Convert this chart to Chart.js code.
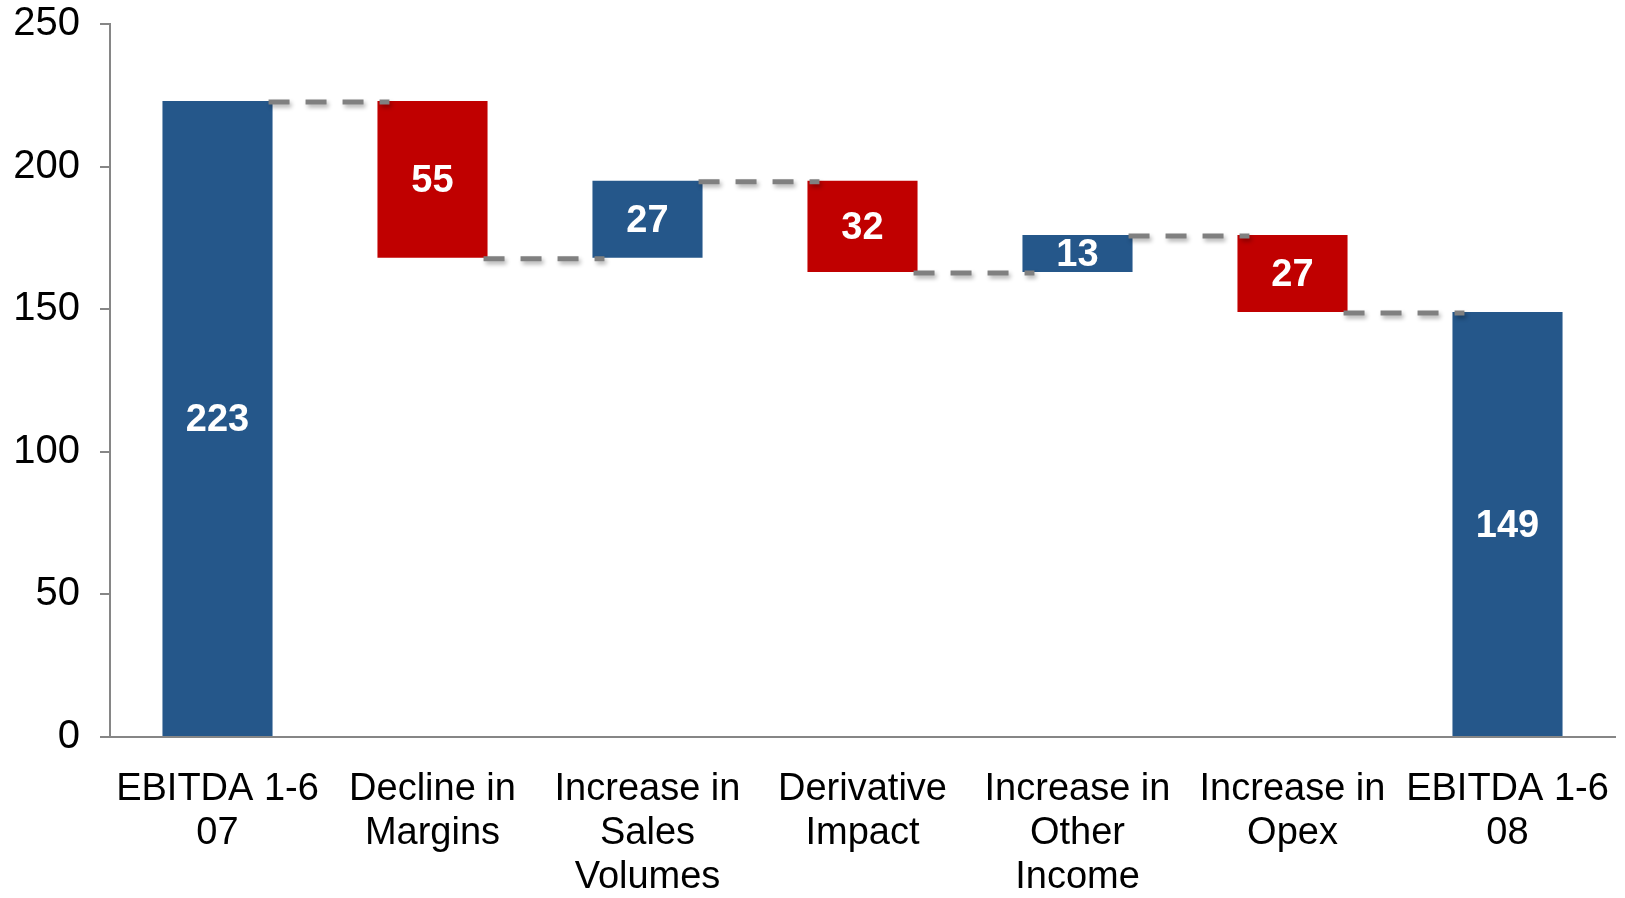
<!DOCTYPE html>
<html>
<head>
<meta charset="utf-8">
<script src="https://cdn.jsdelivr.net/npm/chart.js@4.4.1/dist/chart.umd.min.js"></script>
<style>
    body { margin: 0; background: #fff; overflow: hidden; }
    #wrap { width: 1625px; height: 898px; }
</style>
</head>
<body>
<div id="wrap"><canvas id="waterfall"></canvas></div>
<script>
const categories = [
    ['EBITDA 1-6', '07'],
    ['Decline in', 'Margins'],
    ['Increase in', 'Sales', 'Volumes'],
    ['Derivative', 'Impact'],
    ['Increase in', 'Other', 'Income'],
    ['Increase in', 'Opex'],
    ['EBITDA 1-6', '08']
];
// first and last are totals, the rest are changes
const values = [223, -55, 27, -32, 13, -27, 149];
const isTotal = [true, false, false, false, false, false, true];
const yTicks = [0, 50, 100, 150, 200, 250];

const BLUE = '#25578a';
const RED = '#c00000';
const AXIS = '#868686';

// build floating bars
let running = 0;
const ranges = [];
const levels = [];
values.forEach((v, i) => {
    if (isTotal[i]) {
        ranges.push([0, v]);
        running = v;
    } else {
        ranges.push([running, running + v]);
        running += v;
    }
    levels.push(running);
});
const colors = values.map((v, i) => (isTotal[i] || v > 0) ? BLUE : RED);

const extras = {
    id: 'extras',
    afterDatasetsDraw(chart) {
        const ctx = chart.ctx;
        const bars = chart.getDatasetMeta(0).data;
        const y = chart.scales.y;

        // dashed connectors
        ctx.save();
        ctx.strokeStyle = '#808080';
        ctx.lineWidth = 5;
        ctx.setLineDash([21, 16]);
        ctx.shadowColor = 'rgba(0,0,0,0.3)';
        ctx.shadowBlur = 4;
        ctx.shadowOffsetX = 2;
        ctx.shadowOffsetY = 3;
        for (let i = 0; i < bars.length - 1; i++) {
            const a = bars[i], b = bars[i + 1];
            const py = y.getPixelForValue(levels[i]) + 1;
            ctx.beginPath();
            ctx.moveTo(a.x + a.width / 2 - 4, py);
            ctx.lineTo(b.x - b.width / 2 + 12, py);
            ctx.stroke();
        }
        ctx.restore();

        // value labels
        ctx.save();
        ctx.fillStyle = '#ffffff';
        ctx.font = 'bold 38px "Liberation Sans", Arial, sans-serif';
        ctx.textAlign = 'center';
        ctx.textBaseline = 'middle';
        bars.forEach((bar, i) => {
            const c = bar.getCenterPoint();
            ctx.fillText(String(Math.abs(values[i])), c.x, c.y + 2);
        });
        ctx.restore();
    }
};

new Chart(document.getElementById('waterfall'), {
    type: 'bar',
    data: {
        labels: categories,
        datasets: [{
            data: ranges,
            backgroundColor: colors,
            borderWidth: 0,
            borderSkipped: false,
            categoryPercentage: 1,
            barPercentage: 0.512
        }]
    },
    options: {
        responsive: true,
        maintainAspectRatio: false,
        animation: false,
        layout: { padding: { top: 24, right: 10, left: 0, bottom: 0 } },
        plugins: {
            legend: { display: false },
            tooltip: { enabled: false }
        },
        scales: {
            x: {
                grid: { display: true, drawOnChartArea: false, drawTicks: false },
                border: { color: AXIS, width: 2 },
                ticks: {
                    color: '#000',
                    padding: 30,
                    maxRotation: 0,
                    autoSkip: false,
                    font: { family: '"Liberation Sans", Arial, sans-serif', size: 38, lineHeight: 1.16 }
                },
                afterFit(scale) {
                    scale.height = 161;
                    scale.paddingLeft = 0;
                    scale.paddingRight = 0;
                }
            },
            y: {
                min: 0,
                max: 250,
                afterBuildTicks(scale) { scale.ticks = yTicks.map(v => ({ value: v })); },
                grid: { drawOnChartArea: false, drawTicks: true, tickLength: 10, color: AXIS, lineWidth: 2 },
                border: { color: AXIS, width: 2 },
                ticks: {
                    color: '#000',
                    padding: 20,
                    font: { family: '"Liberation Sans", Arial, sans-serif', size: 40 }
                },
                afterFit(scale) {
                    scale.width = 110;
                    scale.paddingTop = 0;
                    scale.paddingBottom = 0;
                }
            }
        }
    },
    plugins: [extras]
});
</script>
</body>
</html>
